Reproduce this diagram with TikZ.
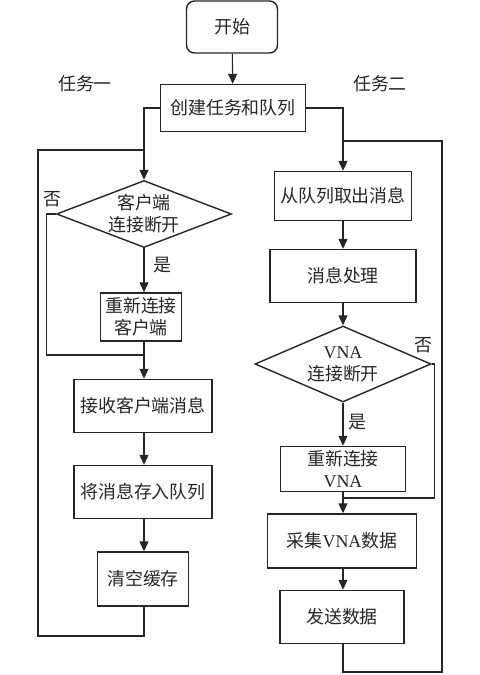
\documentclass[tikz,border=0pt]{standalone}
\usepackage{fontspec}
\setmainfont{Liberation Serif}
\newfontfamily\cjk{Noto Sans CJK SC}
\usetikzlibrary{arrows.meta,positioning,shapes.geometric}

\begin{document}
\begin{tikzpicture}[
  x=1bp, y=-1bp,
  font=\cjk\fontsize{18}{22}\selectfont,
  text=black!85,
  proc/.style={draw=black!85, line width=1.4bp, fill=white,
               align=center, inner sep=0pt},
  startbox/.style={proc, rounded corners=8bp},
  decision/.style={draw=black!85, line width=1.4bp, diamond, fill=white,
                   align=center, inner sep=0pt},
  flow/.style={-{Triangle[length=10bp,width=9bp]}, line width=1.1bp, draw=black!85},
  link/.style={line width=1.1bp, draw=black!85},
  lbl/.style={inner sep=0pt},
]
\useasboundingbox (0,0) rectangle (480,675);

\node[startbox, minimum width=91bp, minimum height=52bp] (start) at (232,27) {开始};
\node[proc, minimum width=145bp, minimum height=47bp] (create) at (233,108) {创建任务和队列};
\node[lbl] (task1) at (85,84) {任务一};
\node[lbl] (task2) at (380,84) {任务二};

% task one
\node[decision, aspect=2.6, minimum width=175bp, minimum height=67bp] (dia1) at (144,214)
  {客户端\\连接断开};
\node[proc, minimum width=81bp, minimum height=48bp] (recon1) at (141,317)
  {重新连接\\客户端};
\node[proc, minimum width=138bp, minimum height=53bp] (recv) at (143,406) {接收客户端消息};
\node[proc, minimum width=138bp, minimum height=53bp] (store) at (143,492) {将消息存入队列};
\node[proc, minimum width=91bp, minimum height=54bp] (clear) at (143,579) {清空缓存};

% task two
\node[proc, minimum width=137bp, minimum height=49bp] (fetch) at (343,196) {从队列取出消息};
\node[proc, minimum width=146bp, minimum height=53bp] (handle) at (343,276) {消息处理};
\node[decision, aspect=2.3, minimum width=176bp, minimum height=76bp] (dia2) at (343,364)
  {{\rmfamily VNA}\\连接断开};
\node[proc, minimum width=125bp, minimum height=45bp] (recon2) at (343,469)
  {重新连接\\{\rmfamily VNA}};
\node[proc, minimum width=149bp, minimum height=54bp] (collect) at (342,541)
  {采集{\rmfamily VNA}数据};
\node[proc, minimum width=124bp, minimum height=53bp] (send) at (342,617) {发送数据};

\coordinate (j0) at (144,150);
\coordinate (j1) at (144,355);
\coordinate (lb) at (38,636);
\coordinate (j2) at (343,498);
\coordinate (j3) at (343,141);
\coordinate (rb) at (442,672);

\draw[flow] (start) -- (create);
\draw[flow] (create.west) -| (dia1.north);
\draw[flow] (create.east) -| (fetch.north);

\draw[flow] (dia1.south) -- (dia1.south |- recon1.north);
\draw[flow] (dia1.south |- recon1.south) -- (dia1.south |- recv.north);
\draw[link] (dia1.west) -- ++(-9,0) |- (j1);
\draw[flow] (recv.south -| dia1.south) -- (dia1.south |- store.north);
\draw[flow] (store.south -| dia1.south) -- (dia1.south |- clear.north);
\draw[link] (clear.south -| dia1.south) |- (lb) |- (j0);
\node[lbl] (no1) at (52,199) {否};
\node[lbl] (yes1) at (162,265) {是};

\draw[flow] (fetch) -- (handle);
\draw[flow] (handle) -- (dia2);
\draw[flow] (dia2) -- (recon2);
\draw[flow] (recon2) -- (recon2.south |- collect.north);
\draw[link] (dia2.east) -- ++(3,0) |- (j2);
\draw[flow] (collect.south -| recon2.south) -- (recon2.south |- send.north);
\draw[link] (send.south -| recon2.south) |- (rb) |- (j3);
\node[lbl] (no2) at (423,345) {否};
\node[lbl] (yes2) at (357,422) {是};

\end{tikzpicture}
\end{document}
